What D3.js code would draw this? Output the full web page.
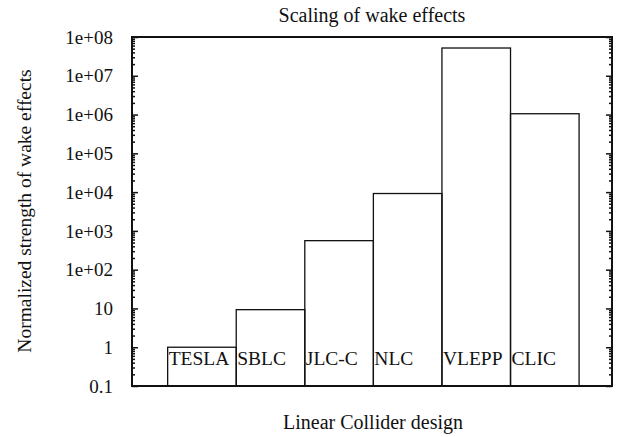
<!DOCTYPE html>
<html>
<head>
<meta charset="utf-8">
<script src="https://cdn.jsdelivr.net/npm/d3@7"></script>
<style>
  body { margin: 0; background: #fff; }
  text { font-family: "Liberation Serif", "Times New Roman", serif; fill: #111; }
</style>
</head>
<body>
<div id="chart"></div>
<script>
// data
let designs = ["TESLA", "SBLC", "JLC-C", "NLC", "VLEPP", "CLIC"];
let wake = [1, 9.3, 560, 9200, 5.2e7, 1.05e6];
let tickValues = [0.1, 1, 10, 100, 1e3, 1e4, 1e5, 1e6, 1e7, 1e8];
let tickLabels = ["0.1", "1", "10", "1e+02", "1e+03", "1e+04", "1e+05", "1e+06", "1e+07", "1e+08"];

let W = 618, H = 437;
let margin = { top: 37, right: 6, bottom: 51, left: 132 };
let width = W - margin.left - margin.right;
let height = H - margin.top - margin.bottom;

let svg = d3.select("#chart").append("svg")
    .attr("width", W)
    .attr("height", H);

let g = svg.append("g")
    .attr("transform", "translate(" + margin.left + "," + margin.top + ")");

let xScale = d3.scaleLinear().domain([0, designs.length + 1]).range([0, width]);
let yScale = d3.scaleLog().domain([0.1, 1e8]).range([height, 0]);

// bars (drawn as outlined boxes from the bottom of the axis)
let bars = g.selectAll(".bar").data(designs).enter().append("rect")
    .attr("class", "bar")
    .attr("x", (d, i) => xScale(i + 0.52))
    .attr("width", (d, i) => xScale(i + 1.52) - xScale(i + 0.52))
    .attr("y", (d, i) => yScale(wake[i]))
    .attr("height", (d, i) => height - yScale(wake[i]))
    .style("fill", "none")
    .style("stroke", "#111")
    .style("stroke-width", 1.3);

g.selectAll(".barlabel").data(designs).enter().append("text")
    .attr("class", "barlabel")
    .attr("x", (d, i) => xScale(i + 0.52) + 1)
    .attr("y", height - 21)
    .style("font-size", "19.5px")
    .text(d => d);

// minor ticks for log axis
let minors = [];
for (let e = -1; e < 8; e++) {
    for (let k = 2; k <= 9; k++) minors.push(k * Math.pow(10, e));
}

let leftAxis = d3.axisLeft(yScale).tickValues(tickValues).tickSize(-6).tickFormat("");
let rightAxis = d3.axisRight(yScale).tickValues(tickValues).tickSize(-6).tickFormat("");
let leftMinor = d3.axisLeft(yScale).tickValues(minors).tickSize(-3).tickFormat("");
let rightMinor = d3.axisRight(yScale).tickValues(minors).tickSize(-3).tickFormat("");

g.append("g").attr("class", "ax").call(leftAxis);
g.append("g").attr("class", "ax").call(leftMinor);
g.append("g").attr("class", "ax").attr("transform", "translate(" + width + ",0)").call(rightAxis);
g.append("g").attr("class", "ax").attr("transform", "translate(" + width + ",0)").call(rightMinor);
g.selectAll(".ax .domain").remove();
g.selectAll(".ax line").style("stroke", "#111").style("stroke-width", 1.5);

// tick labels
g.selectAll(".ylab").data(tickValues).enter().append("text")
    .attr("class", "ylab")
    .attr("x", -19)
    .attr("y", d => yScale(d))
    .attr("dy", "0.35em")
    .style("text-anchor", "end")
    .style("font-size", "19px")
    .text((d, i) => tickLabels[i]);

// frame
g.append("rect")
    .attr("width", width)
    .attr("height", height)
    .style("fill", "none")
    .style("stroke", "#111")
    .style("stroke-width", 2);

// titles
svg.append("text")
    .attr("x", 372)
    .attr("y", 22)
    .style("text-anchor", "middle")
    .style("font-size", "20px")
    .text("Scaling of wake effects");

svg.append("text")
    .attr("x", 373)
    .attr("y", 429)
    .style("text-anchor", "middle")
    .style("font-size", "20px")
    .text("Linear Collider design");

svg.append("text")
    .attr("transform", "translate(31," + 211 + ")rotate(-90)")
    .style("text-anchor", "middle")
    .style("font-size", "19.5px")
    .text("Normalized strength of wake effects");
</script>
</body>
</html>
